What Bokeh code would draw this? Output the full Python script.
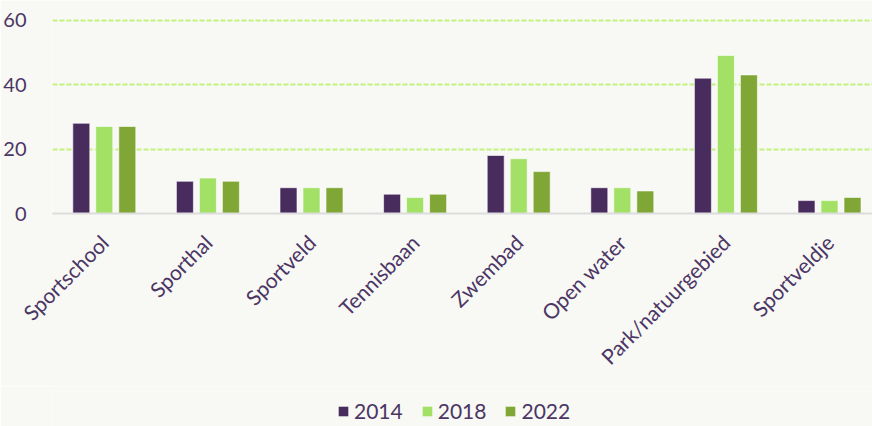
from math import pi
from bokeh.plotting import figure
from bokeh.models import (ColumnDataSource, Range1d, FixedTicker, Legend, LegendItem)
from bokeh.layouts import column
from bokeh.transform import dodge
from bokeh.embed import file_html
from bokeh.resources import INLINE

categories = ["Sportschool", "Sporthal", "Sportveld", "Tennisbaan", "Zwembad",
              "Open water", "Park/natuurgebied", "Sportveldje"]
years = ["2014", "2018", "2022"]
v2014 = [28, 10, 8, 6, 18, 8, 42, 4]
v2018 = [27, 11, 8, 5, 17, 8, 49, 4]
v2022 = [27, 10, 8, 6, 13, 7, 43, 5]
y_ticks = [0, 20, 40, 60]

colors = ["#482c5e", "#a2e066", "#80a636"]
text_color = "#4b3565"
bg = "#f8f8f4"
font = "Lato"
keys = ["v2014", "v2018", "v2022"]

pos = [i + 0.5 for i in range(len(categories))]
source = ColumnDataSource(dict(x=pos, cat=categories, v2014=v2014, v2018=v2018, v2022=v2022))

p = figure(width=872, height=386, output_backend="svg", toolbar_location=None,
           x_range=Range1d(0, 7.915), y_range=Range1d(0, 60.5),
           min_border_top=18, min_border_left=52, min_border_right=0, min_border_bottom=173)
p.background_fill_color = bg
p.border_fill_color = bg
p.outline_line_color = None

for off, col, key in zip([-0.222, 0.0, 0.222], colors, keys):
    p.vbar(x=dodge("x", off, range=p.x_range), top=key, width=0.164, source=source,
           fill_color=col, line_color="white", line_alpha=0.6, line_width=1)

# axes
p.xaxis.ticker = FixedTicker(ticks=pos)
p.xaxis.major_label_overrides = {x: c for x, c in zip(pos, categories)}
p.xaxis.major_label_orientation = pi / 4
p.xaxis.major_tick_line_color = None
p.xaxis.minor_tick_line_color = None
p.xaxis.axis_line_color = "#dcdcdc"
p.xaxis.axis_line_width = 2
p.xaxis.major_label_text_font = font
p.xaxis.major_label_text_font_size = "21px"
p.xaxis.major_label_text_color = text_color
p.xaxis.major_label_standoff = 19

p.yaxis.ticker = FixedTicker(ticks=y_ticks)
p.yaxis.major_tick_line_color = None
p.yaxis.minor_tick_line_color = None
p.yaxis.axis_line_color = None
p.yaxis.major_label_text_font = font
p.yaxis.major_label_text_font_size = "20px"
p.yaxis.major_label_text_color = text_color
p.yaxis.major_label_standoff = 20

p.xgrid.grid_line_color = None
p.ygrid.grid_line_color = "#c4f27f"
p.ygrid.grid_line_width = 2
p.ygrid.grid_line_dash = "5 2"

# legend strip below the chart (its own bars lie outside its visible range)
p2 = figure(width=872, height=40, output_backend="svg", toolbar_location=None,
            x_range=Range1d(-20, -19), y_range=Range1d(-20, -19),
            min_border=0)
p2.axis.visible = False
p2.grid.visible = False
p2.background_fill_color = bg
p2.border_fill_color = bg
p2.outline_line_color = None
swatches = [p2.vbar(x="x", top=k, width=0.1, source=source, fill_color=c, line_color=None)
            for c, k in zip(colors, keys)]
legend = Legend(items=[LegendItem(label=y, renderers=[r]) for y, r in zip(years, swatches)],
                orientation="horizontal", location=(285, 3))
legend.label_text_font = font
legend.label_text_font_size = "21px"
legend.label_text_color = text_color
legend.glyph_width = 12
legend.glyph_height = 12
legend.label_standoff = 5
legend.spacing = 18
legend.padding = 0
legend.margin = 0
legend.background_fill_alpha = 0
legend.border_line_color = None
p2.add_layout(legend, "center")

layout = column(p, p2, spacing=0)
open("out.html", "w").write(file_html(layout, INLINE))
